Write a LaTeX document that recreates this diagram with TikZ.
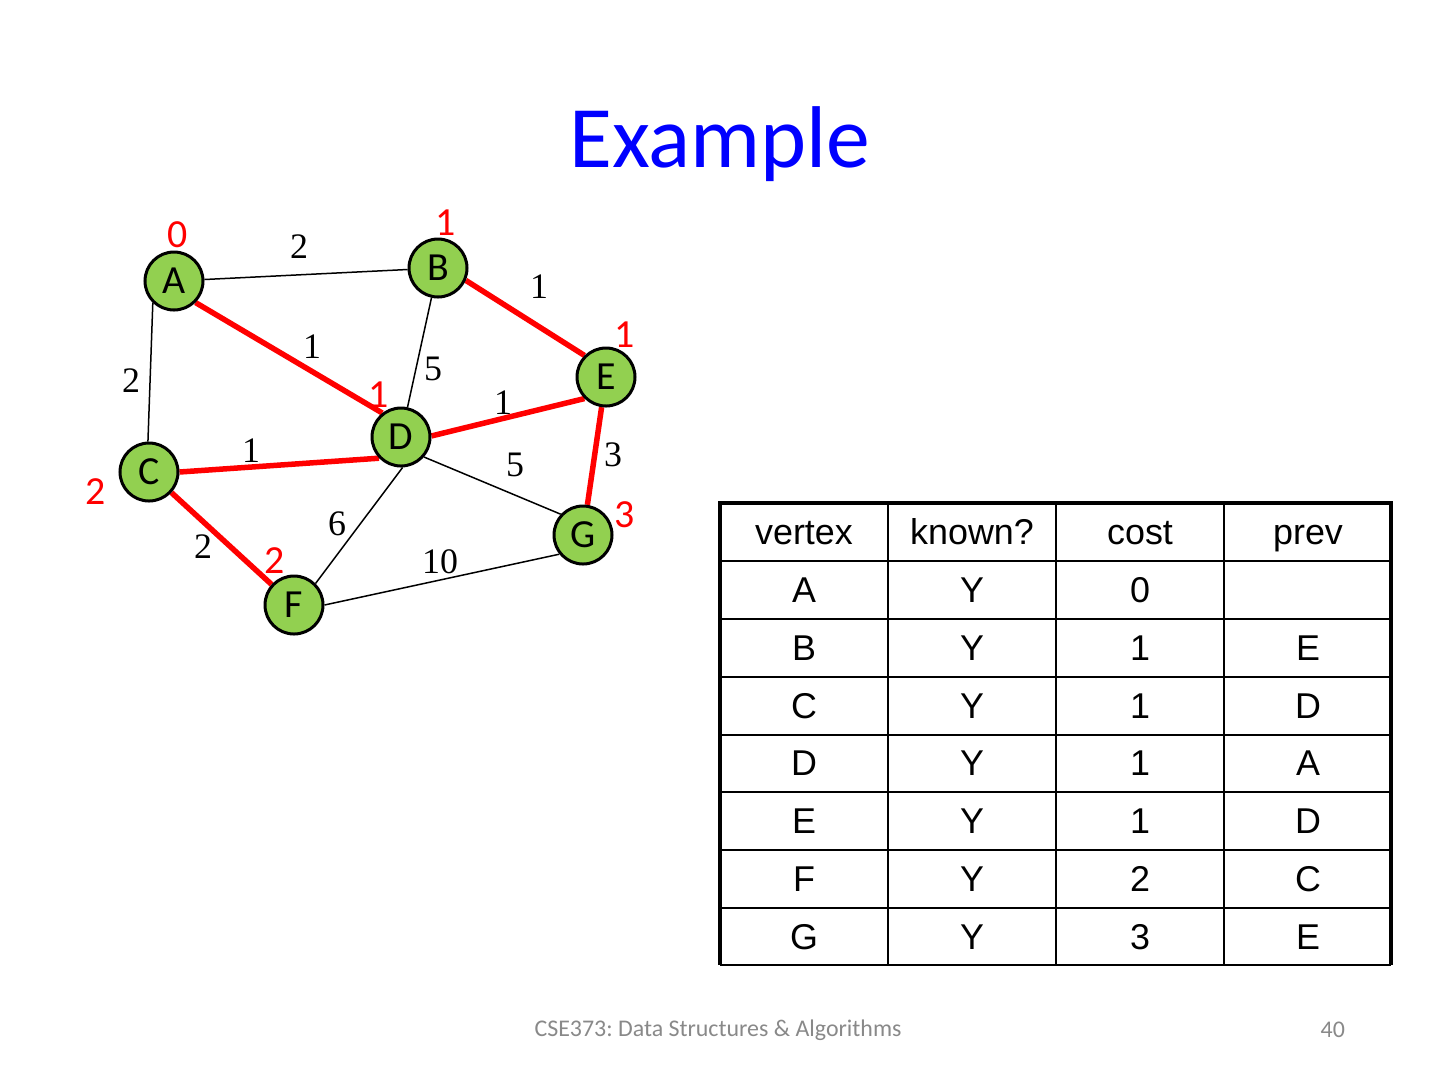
\documentclass[tikz,border=0pt]{standalone}
\usepackage{fontspec}
\setmainfont{Carlito}
\newfontfamily\serifw{Liberation Serif}
\newfontfamily\arialf{Liberation Sans}
\usetikzlibrary{backgrounds}
\definecolor{nodegreen}{RGB}{146,208,80}
\definecolor{titleblue}{RGB}{0,0,255}
\definecolor{footgray}{RGB}{137,137,137}
\frenchspacing
\begin{document}
\begin{tikzpicture}[x=0.5bp,y=-0.5bp,
  vtx/.style={circle,draw=black,line width=1.5bp,fill=nodegreen,minimum size=29bp,inner sep=0pt,font=\fontsize{20}{20}\selectfont},
  wlab/.style={font=\serifw\fontsize{18}{18}\selectfont,inner sep=0pt},
  clab/.style={text=red,font=\fontsize{20}{20}\selectfont,inner sep=0pt},
  thinedge/.style={line width=0.75bp},
  redge/.style={red,line width=2.75bp},
  cell/.style={font=\arialf\fontsize{18}{18}\selectfont,inner sep=0pt,anchor=base},
  tline/.style={line width=1bp},
  tborder/.style={line width=2bp}]
\begin{scope}[on background layer]
\fill[white] (0,0) rectangle (1440,1080);
\end{scope}
\useasboundingbox (0,0) rectangle (1440,1080);

% title
\node[font=\fontsize{44}{44}\selectfont,text=titleblue,anchor=base] (title) at (720,167) {Example};

% vertices
\node[vtx] (A) at (174,281) {A};
\node[vtx] (B) at (438,268) {B};
\node[vtx] (E) at (606,377) {E};
\node[vtx] (D) at (401,437) {D};
\node[vtx] (C) at (149,472) {C};
\node[vtx] (G) at (583,535) {G};
\node[vtx] (F) at (294,605) {F};

% edges
\begin{scope}[on background layer]
\draw[thinedge] (A) -- (B);
\draw[thinedge] (A.226) -- (C.92);
\draw[thinedge] (B) -- (D);
\draw[thinedge] (D.-41) -- (G.137);
\draw[thinedge] (D.-87) -- (F.45);
\draw[thinedge] (F.east) -- (G.219);
\draw[redge] (A.-45) -- (D.128);
\draw[redge] (B.-24) -- (E.135);
\draw[redge] (D.2) -- (E.225);
\draw[redge] (C.east) -- (D.224);
\draw[redge] (E) -- (G);
\draw[redge] (C) -- (F);
\end{scope}

% weights
\node[wlab] (wAB) at (299,247) {2};
\node[wlab] (wAD) at (312,347) {1};
\node[wlab] (wAC) at (131,381) {2};
\node[wlab] (wBE) at (539,287) {1};
\node[wlab] (wBD) at (433,369) {5};
\node[wlab] (wDE) at (503,403) {1};
\node[wlab] (wCD) at (251,451) {1};
\node[wlab] (wEG) at (613,455) {3};
\node[wlab] (wDG) at (515,465) {5};
\node[wlab] (wDF) at (337,524) {6};
\node[wlab] (wCF) at (203,547) {2};
\node[wlab] (wFG) at (440,562) {10};

% costs
\node[clab] (cA) at (178,235) {0};
\node[clab] (cB) at (446,223) {1};
\node[clab] (cE) at (625,335) {1};
\node[clab] (cD) at (379,395) {1};
\node[clab] (cC) at (96,492) {2};
\node[clab] (cG) at (625,515) {3};
\node[clab] (cF) at (275,561) {2};

% table
\foreach \y in {561,619,677,735,792,850,908}
  \draw[tline] (720,\y) -- (1391,\y);
\foreach \x in {888,1056,1224}
  \draw[tline] (\x,503) -- (\x,965);
\draw[tline] (720,965) -- (1391,965);
\draw[tborder] (720,965) -- (720,503) -- (1391,503) -- (1391,965);

\foreach \txt [count=\i] in {vertex,A,B,C,D,E,F,G}
  \node[cell] (c\i-1) at (804,{487+\i*57.75}) {\txt};
\foreach \txt [count=\i] in {known?,Y,Y,Y,Y,Y,Y,Y}
  \node[cell] (c\i-2) at (972,{487+\i*57.75}) {\txt};
\foreach \txt [count=\i] in {cost,0,1,1,1,1,2,3}
  \node[cell] (c\i-3) at (1140,{487+\i*57.75}) {\txt};
\foreach \txt [count=\i] in {prev,{},E,D,A,D,C,E}
  \node[cell] (c\i-4) at (1308,{487+\i*57.75}) {\txt};

% footer
\node[font=\fontsize{12}{12}\selectfont,text=footgray] (foot) at (718,1030) {CSE373: Data Structures \& Algorithms};
\node[font=\fontsize{12}{12}\selectfont,text=footgray,anchor=east] (page) at (1352,1030) {40};
\end{tikzpicture}
\end{document}
